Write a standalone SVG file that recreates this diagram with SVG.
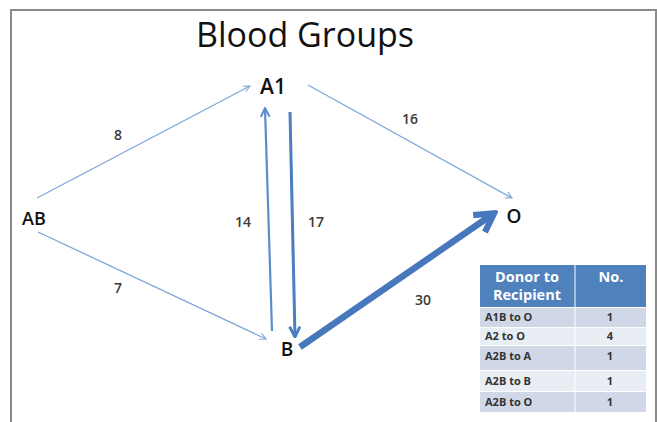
<svg xmlns="http://www.w3.org/2000/svg" width="657" height="422" viewBox="0 0 657 422">
<style>
.node{font-family:"Open Sans","Liberation Sans",sans-serif;fill:#111;font-weight:600;}
.lbl{font-family:"Open Sans","Liberation Sans",sans-serif;font-size:14px;font-weight:600;fill:#3a3a3a;text-anchor:middle;}
.thin{stroke:#7EA6D8;stroke-width:1.3;fill:none;}
.mid{stroke:#5B8CCB;stroke-width:2.2;fill:none;}
.thick3{stroke:#4A7EC0;stroke-width:3;fill:none;}
.heavy{stroke:#4777BD;stroke-width:6.5;fill:none;}
.th{font-family:"Open Sans","Liberation Sans",sans-serif;font-size:14.5px;font-weight:700;fill:#fff;text-anchor:middle;}
.td{font-family:"Open Sans","Liberation Sans",sans-serif;font-size:11px;font-weight:700;fill:#333;}
.tn{font-family:"Open Sans","Liberation Sans",sans-serif;font-size:11px;font-weight:700;fill:#333;text-anchor:middle;}
</style>
<defs>
<marker id="aThin" viewBox="0 0 10 10" refX="9" refY="5" markerWidth="8" markerHeight="8" markerUnits="userSpaceOnUse" orient="auto"><path d="M1,1 L9,5 L1,9" fill="none" stroke="#7EA6D8" stroke-width="1.3"/></marker>
<marker id="aMid" viewBox="0 0 10 10" refX="9" refY="5" markerWidth="11" markerHeight="11" markerUnits="userSpaceOnUse" orient="auto"><path d="M1,1 L9,5 L1,9" fill="none" stroke="#5B8CCB" stroke-width="1.8"/></marker>
<marker id="aThick" viewBox="0 0 10 10" refX="9" refY="5" markerWidth="13" markerHeight="13" markerUnits="userSpaceOnUse" orient="auto"><path d="M1,1 L9,5 L1,9" fill="none" stroke="#4A7EC0" stroke-width="2.2"/></marker>
<marker id="aHeavy" viewBox="0 0 10 10" refX="8" refY="5" markerWidth="26" markerHeight="26" markerUnits="userSpaceOnUse" orient="auto"><path d="M1.5,1 L8.5,5 L1.5,9" fill="none" stroke="#4777BD" stroke-width="2.4"/></marker>
</defs>
<rect x="0" y="0" width="657" height="422" fill="#fff"/>
<path d="M11,422 V10 H656 V422" fill="none" stroke="#8a8a8a" stroke-width="2"/>
<text x="305" y="47" font-family="Open Sans,Liberation Sans,sans-serif" font-size="34" fill="#111" text-anchor="middle">Blood Groups</text>
<g id="connectors">
<line class="thin" x1="37" y1="198" x2="250" y2="86" marker-end="url(#aThin)"/>
<line class="thin" x1="38" y1="232" x2="266" y2="339" marker-end="url(#aThin)"/>
<line class="thin" x1="308" y1="85" x2="512" y2="198" marker-end="url(#aThin)"/>
<line class="mid" x1="272" y1="331" x2="265" y2="108" marker-end="url(#aMid)"/>
<line class="thick3" x1="290" y1="112" x2="295" y2="337" marker-end="url(#aThick)"/>
<line class="heavy" x1="300" y1="347" x2="493" y2="214" marker-end="url(#aHeavy)"/>
<text class="lbl" x="118" y="140">8</text>
<text class="lbl" x="410" y="124">16</text>
<text class="lbl" x="243" y="227">14</text>
<text class="lbl" x="316" y="227">17</text>
<text class="lbl" x="118" y="293">7</text>
<text class="lbl" x="423" y="305">30</text>
</g>
<g id="node-A1"><text class="node" x="273" y="94" font-size="21" text-anchor="middle">A1</text></g>
<g id="node-AB"><text class="node" x="34" y="225" font-size="18" text-anchor="middle">AB</text></g>
<g id="node-O"><text class="node" x="514" y="223" font-size="19" text-anchor="middle">O</text></g>
<g id="node-B"><text class="node" x="287" y="356" font-size="19" text-anchor="middle">B</text></g>
<g id="table">
<rect x="480" y="265" width="166" height="42" fill="#4F81BD"/>
<line x1="575" y1="265" x2="575" y2="307" stroke="#fff" stroke-width="1"/>
<text class="th" x="527" y="282">Donor to</text>
<text class="th" x="527" y="300">Recipient</text>
<text class="th" x="611" y="282">No.</text>
<rect x="480" y="308" width="166" height="19" fill="#D0D8E8"/>
<rect x="480" y="328" width="166" height="17" fill="#E9EDF4"/>
<rect x="480" y="346" width="166" height="24" fill="#D0D8E8"/>
<rect x="480" y="371" width="166" height="20" fill="#E9EDF4"/>
<rect x="480" y="392" width="166" height="20" fill="#D0D8E8"/>
<line x1="575" y1="308" x2="575" y2="412" stroke="#fff" stroke-width="1"/>
<text class="td" x="485" y="321">A1B to O</text>
<text class="td" x="485" y="340">A2 to O</text>
<text class="td" x="485" y="360">A2B to A</text>
<text class="td" x="485" y="385">A2B to B</text>
<text class="td" x="485" y="406">A2B to O</text>
<text class="tn" x="610" y="321">1</text>
<text class="tn" x="610" y="340">4</text>
<text class="tn" x="610" y="360">1</text>
<text class="tn" x="610" y="385">1</text>
<text class="tn" x="610" y="406">1</text>
</g>
</svg>
